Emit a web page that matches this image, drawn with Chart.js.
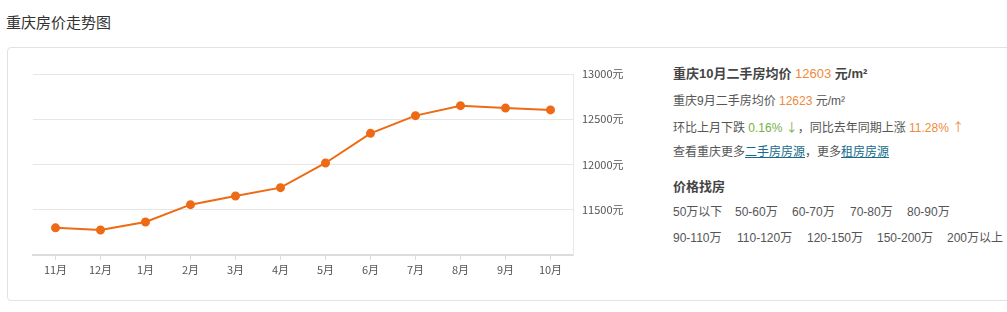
<!DOCTYPE html>
<html>
<head>
<meta charset="utf-8">
<script src="https://cdn.jsdelivr.net/npm/chart.js@4/dist/chart.umd.min.js"></script>
<style>
  body { margin: 0; width: 1007px; height: 312px; background: #fff; position: relative; overflow: hidden;
         font-family: "Noto Sans CJK SC", "Noto Sans", sans-serif; color: #333; }
  .title { position: absolute; left: 6px; top: 11px; font-size: 15px; line-height: 22px; }
  .box { position: absolute; left: 7px; top: 47px; width: 1020px; height: 252px; border: 1px solid #e2e2e2; border-radius: 4px; }
  #wrap { position: absolute; left: 0; top: 47px; width: 660px; height: 265px; }
  .info { position: absolute; left: 673px; top: 64px; font-size: 12px; color: #555;
          font-family: "Liberation Sans", "Noto Sans CJK SC", sans-serif; }
  .info div, .info span.p { position: absolute; white-space: nowrap; line-height: 20px; }
  .info div { left: 0; }
  .orange { color: #ee8a3c; }
  .green { color: #73b045; }
  .arrow { font-family: "Noto Sans CJK SC", sans-serif; }
  .info a { color: #176a8c; text-decoration: underline; }
  .b { font-weight: bold; color: #444; font-size: 13px; }
</style>
</head>
<body>
<div class="title">重庆房价走势图</div>
<div class="box"></div>
<div id="wrap"><canvas id="priceChart"></canvas></div>
<div class="info">
  <div class="b" style="top:0">重庆10月二手房均价 <span class="orange" style="font-weight:normal">12603</span> 元/m²</div>
  <div style="top:27px">重庆9月二手房均价 <span class="orange">12623</span> 元/m²</div>
  <div style="top:53px">环比上月下跌 <span class="green">0.16% <span class="arrow">↓</span></span>，同比去年同期上涨 <span class="orange">11.28% <span class="arrow">↑</span></span></div>
  <div style="top:78px">查看重庆更多<a>二手房房源</a>，更多<a>租房房源</a></div>
  <div class="b" style="top:113px">价格找房</div>
  <div style="top:138px">
    <span class="p" style="left:0">50万以下</span><span class="p" style="left:62px">50-60万</span><span class="p" style="left:119px">60-70万</span><span class="p" style="left:177px">70-80万</span><span class="p" style="left:234px">80-90万</span>
  </div>
  <div style="top:164px">
    <span class="p" style="left:0">90-110万</span><span class="p" style="left:64px">110-120万</span><span class="p" style="left:134px">120-150万</span><span class="p" style="left:204px">150-200万</span><span class="p" style="left:274px">200万以上</span>
  </div>
</div>
<script>
const months = ['11月', '12月', '1月', '2月', '3月', '4月', '5月', '6月', '7月', '8月', '9月', '10月'];
const avgPrice = [11300, 11276, 11365, 11556, 11652, 11744, 12017, 12344, 12540, 12650, 12623, 12603];
const yMin = 11000;
const yMax = 13000;
const yStep = 500;

const orange = '#ee6a14';

new Chart(document.getElementById('priceChart'), {
    type: 'line',
    data: {
        labels: months,
        datasets: [{
            data: avgPrice,
            borderColor: orange,
            backgroundColor: orange,
            borderWidth: 2,
            pointRadius: 3.5,
            pointHoverRadius: 3.5,
            pointBackgroundColor: orange,
            pointBorderColor: orange,
            tension: 0
        }]
    },
    options: {
        responsive: true,
        maintainAspectRatio: false,
        animation: false,
        layout: { padding: { left: 33, top: 27, right: 37, bottom: 32 } },
        plugins: { legend: { display: false }, tooltip: { enabled: false } },
        scales: {
            x: {
                offset: true,
                grid: { display: true, drawOnChartArea: false, drawTicks: true, tickLength: 5, offset: false, color: '#dcdcdc' },
                border: { color: '#dcdcdc', width: 2 },
                ticks: { color: '#555', font: { size: 11, family: 'Noto Sans CJK SC' }, padding: 3, maxRotation: 0 },
                afterFit: scale => { scale.height = 25; }
            },
            y: {
                position: 'right',
                min: yMin,
                max: yMax,
                grid: { color: '#e6e6e6', drawTicks: false },
                border: { color: '#e8e8e8', width: 1 },
                ticks: {
                    stepSize: yStep,
                    padding: 9,
                    color: '#555',
                    font: { size: 11, family: 'Noto Sans CJK SC' },
                    callback: v => (v === yMin ? '' : v + '元')
                },
                afterFit: scale => { scale.width = 50; }
            }
        }
    }
});
</script>
</body>
</html>
